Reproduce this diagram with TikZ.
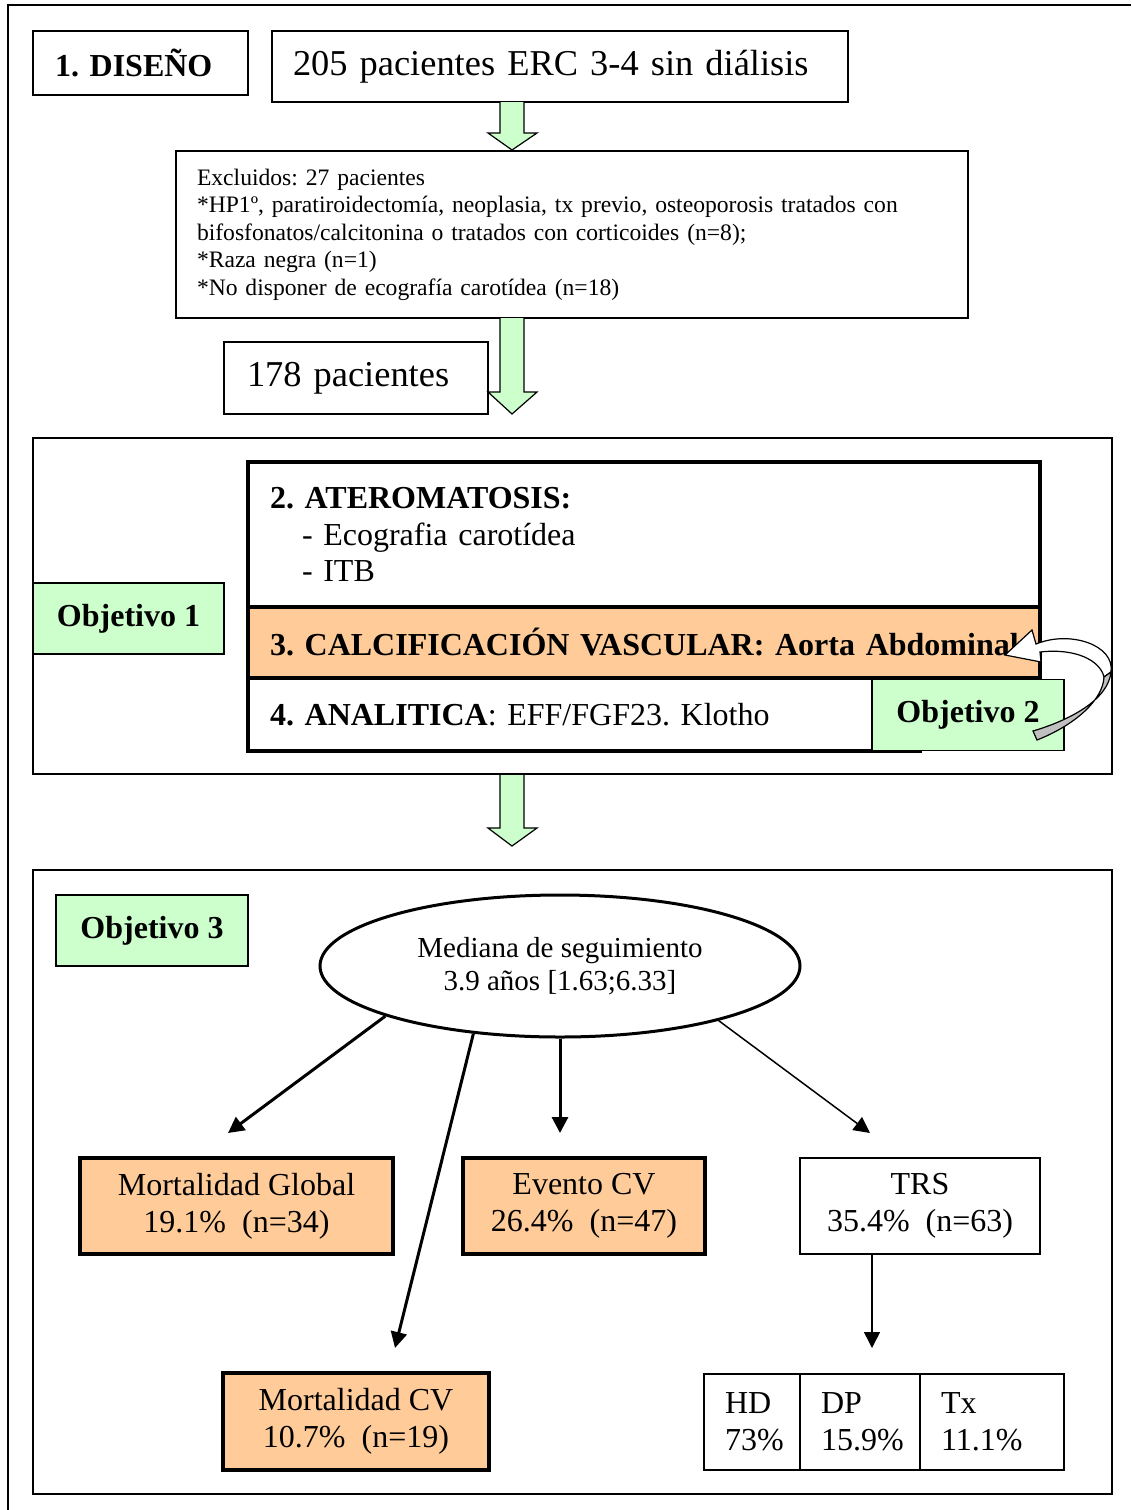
\documentclass[tikz,border=0pt]{standalone}
\usepackage{fontspec}
\setmainfont{Liberation Serif}
\usetikzlibrary{arrows.meta, shapes.geometric}
\definecolor{orangeFill}{HTML}{FFCC99}
\definecolor{greenFill}{HTML}{CCFFCC}
\definecolor{bandGray}{HTML}{C0C0C0}
\newcommand{\bigsize}{\fontsize{18.2}{21}\selectfont}
\newcommand{\labelsize}{\fontsize{16}{18.3}\selectfont}
\newcommand{\smallsize}{\fontsize{11.8}{13.75}\selectfont}
\newcommand{\ovalsize}{\fontsize{14.5}{16.5}\selectfont}
\frenchspacing

\begin{document}
\begin{tikzpicture}[x=0.5pt, y=-0.5pt,
    >={Triangle[length=8pt,width=8pt]},
    box/.style={draw, line width=0.75pt, inner sep=0pt, align=center},
    leftbox/.style={box, align=left},
    thickbox/.style={leftbox, line width=1.75pt, inner xsep=11pt, text width=374pt, font=\labelsize},
    goal/.style={box, fill=greenFill, minimum width=96pt, minimum height=35.5pt, font=\labelsize\bfseries},
    result/.style={box, fill=orangeFill, line width=2pt, minimum height=48pt, font=\labelsize},
    cell/.style={leftbox, minimum height=48pt, inner xsep=10.5pt, font=\labelsize}]
    \useasboundingbox (0,0) rectangle (1131,1510);
    \draw[line width=1pt] (8,1510) -- (8,5) -- (1131,5);

    % design
    \node[leftbox, text width=85.5pt, inner xsep=11pt, minimum height=32pt, font=\labelsize\bfseries] (diseno) at (140.5,63) {1. DISEÑO};
    \node[leftbox, text width=267pt, inner xsep=10.5pt, minimum height=35.5pt, font=\bigsize] (pac205) at (560,66.5) {205 pacientes ERC 3-4 sin diálisis};
    \node[leftbox, text width=375pt, inner xsep=10.5pt, minimum height=83.5pt, font=\smallsize] (excl) at (572,234.5)
        {Excluidos: 27 pacientes\\{}
         *HP1º, paratiroidectomía, neoplasia, tx previo, osteoporosis tratados con\\{}
         bifosfonatos/calcitonina o tratados con corticoides (n=8);\\{}
         *Raza negra (n=1)\\{}
         *No disponer de ecografía carotídea (n=18)};
    \node[leftbox, text width=109pt, inner xsep=11.5pt, minimum height=36pt, font=\bigsize] (pac178) at (356,378) {178 pacientes};

    % green block arrows
    \foreach \top/\hs/\tip in {102/133/150, 318/392/414, 774/828/846}
        \filldraw[fill=greenFill, line width=0.6pt] (500,\top) -- (500,\hs) -- (488,\hs) -- (512,\tip)
            -- (537,\hs) -- (524,\hs) -- (524,\top);

    % objectives 1 and 2
    \node[box, minimum width=539.5pt, minimum height=168pt] (panelA) at (572.5,606) {};
    \node[thickbox, minimum height=72.5pt] (atero) at (644,534.5)
        {\textbf{2. ATEROMATOSIS:}\\
         \hspace*{16pt}- Ecografia carotídea\\
         \hspace*{16pt}- ITB};
    \node[thickbox, fill=orangeFill, minimum height=35.5pt] (calc) at (644,642.5)
        {\mbox{\textbf{3. CALCIFICACIÓN VASCULAR: Aorta Abdominal}}};
    \node[thickbox, text width=314pt, minimum height=36.5pt] (anal) at (584,714.5)
        {\textbf{4. ANALITICA}: EFF/FGF23. Klotho};
    \node[goal] (obj2) at (968,715) {Objetivo 2};
    \node[goal, minimum width=95.5pt] (obj1) at (128.5,618.5) {Objetivo 1};
    \filldraw[fill=white, line width=0.6pt] (1036,644) .. controls (1070,630) and (1115,645) .. (1111,672)
        -- (1104,677) .. controls (1100,660) and (1075,648) .. (1040,652)
        -- (1041,662) -- (1005,655) -- (1032,630) -- cycle;
    \filldraw[fill=bandGray, line width=0.6pt] (1111,672) .. controls (1108,700) and (1070,720) .. (1033,731)
        -- (1037,740) .. controls (1075,725) and (1103,700) .. (1104,677) -- cycle;

    % objective 3
    \node[box, minimum width=539.5pt, minimum height=312pt] (panelB) at (572.5,1182) {};
    \node[goal] (obj3) at (152,930.5) {Objetivo 3};
    \node[ellipse, draw, line width=1.5pt, inner sep=0pt, minimum width=240pt, minimum height=71pt,
        align=center, font=\ovalsize] (mediana) at (560,966)
        {Mediana de seguimiento\\3.9 años [1.63;6.33]};

    \node[result, minimum width=156.5pt] (mglobal) at (236.5,1206) {Mortalidad Global\\19.1\% \ (n=34)};
    \node[result, minimum width=121pt] (evento) at (584,1206) {Evento CV\\26.4\% \ (n=47)};
    \node[box, minimum width=120pt, minimum height=48pt, font=\labelsize] (trs) at (920,1206) {TRS\\35.4\% \ (n=63)};
    \node[result, minimum width=133pt, minimum height=48.5pt] (mcv) at (356,1421.5) {Mortalidad CV\\10.7\% \ (n=19)};
    \node[cell, text width=27pt] (hd) at (752,1422) {HD\\73\%};
    \node[cell, text width=39pt] (dp) at (860,1422) {DP\\15.9\%};
    \node[cell, text width=51pt] (tx) at (992,1422) {Tx\\11.1\%};

    \coordinate (endGlobal) at (228,1133);
    \coordinate (endCV) at (395,1348);
    \coordinate (endEvento) at (560,1133);
    \coordinate (endTRS) at (870,1133);
    \coordinate (endTx) at (872,1348);
    \draw[->, line width=1.5pt] (mediana.196) -- (endGlobal);
    \draw[->, line width=1.5pt] (mediana.218) -- (endCV);
    \draw[->, line width=1.5pt] (mediana.south) -- (endEvento);
    \draw[->, line width=0.75pt] (mediana.341) -- (endTRS);
    \draw[->, line width=0.75pt] (trs.south -| endTx) -- (endTx);
\end{tikzpicture}
\end{document}
